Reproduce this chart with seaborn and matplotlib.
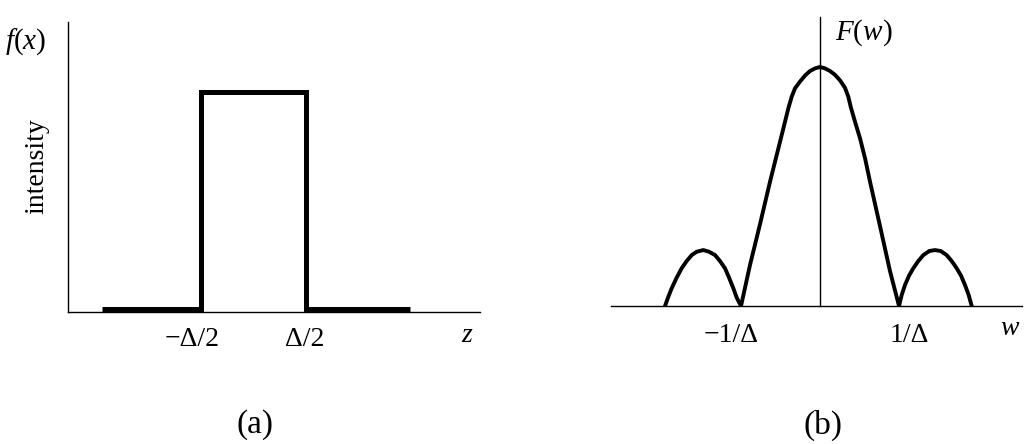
import numpy as np
import pandas as pd
import seaborn as sns
import matplotlib.pyplot as plt
from matplotlib.transforms import ScaledTranslation

# (a) rectangular pulse, z in units of Delta, height normalised to 1
rect_z = [-1.44, -0.5, -0.5, 0.5, 0.5, 1.49]
rect_f = [0, 0, 1, 1, 0, 0]

# (b) magnitude spectrum, w in units of 1/Delta
side_left_w = [-1.962, -1.928, -1.878, -1.814, -1.751, -1.688, -1.624, -1.561, -1.477,
               -1.405, -1.329, -1.266, -1.203, -1.152, -1.097, -1.055, -1.0]
side_left_F = [0.0, 0.032, 0.074, 0.119, 0.158, 0.188, 0.213, 0.227, 0.234,
               0.227, 0.213, 0.188, 0.158, 0.119, 0.074, 0.035, 0.0]
main_w = [-1.0, -0.886, -0.759, -0.633, -0.548, -0.464, -0.401, -0.358, -0.316,
          -0.253, -0.190, -0.127, -0.063, 0.0, 0.063, 0.127, 0.190, 0.253,
          0.316, 0.358, 0.388, 0.443, 0.506, 0.570, 0.633, 0.759, 0.886, 1.0]
main_F = [0.0, 0.172, 0.343, 0.520, 0.632, 0.743, 0.827, 0.876, 0.911,
          0.939, 0.964, 0.983, 0.994, 1.0, 0.994, 0.983, 0.967, 0.944,
          0.913, 0.876, 0.834, 0.771, 0.702, 0.618, 0.520, 0.335, 0.146, 0.0]
side_right_w = [1.0, 1.034, 1.076, 1.127, 1.181, 1.244, 1.308, 1.384, 1.456,
                1.528, 1.603, 1.667, 1.730, 1.785, 1.835, 1.882, 1.920]
side_right_F = [0.0, 0.046, 0.088, 0.127, 0.158, 0.188, 0.213, 0.230, 0.234,
                0.230, 0.213, 0.188, 0.158, 0.127, 0.088, 0.046, 0.0]

rect_ticks = [-0.5, 0.5]
rect_tick_labels = ["\u2212\u0394/2", "\u0394/2"]
spec_ticks = [-1.0, 1.0]
spec_tick_labels = ["\u22121/\u0394", "1/\u0394"]

sns.set_theme(style="white")
plt.rcParams['font.family'] = ['Liberation Serif', 'DejaVu Serif']
plt.rcParams['mathtext.fontset'] = 'custom'
plt.rcParams['mathtext.rm'] = 'Liberation Serif'
plt.rcParams['mathtext.it'] = 'Liberation Serif:italic'

W, H = 1029, 444
fig = plt.figure(figsize=(W / 100, H / 100), dpi=100)
fig.patch.set_facecolor('white')

ax1 = fig.add_axes([68 / W, 1 - 312 / H, 412 / W, 290 / H])
ax2 = fig.add_axes([611 / W, 1 - 306 / H, 411 / W, 289 / H])

# --- (a)
df_rect = pd.DataFrame({'z': rect_z, 'f': rect_f})
sns.lineplot(data=df_rect, x='z', y='f', sort=False, estimator=None, ax=ax1,
             color='black', linewidth=3.6, solid_joinstyle='miter',
             solid_capstyle='butt')
ax1.set_xlim(-1.767, 2.157)
ax1.set_ylim(-0.012, 1.319)

# --- (b)
for ws, Fs in [(side_left_w, side_left_F), (main_w, main_F),
               (side_right_w, side_right_F)]:
    sns.lineplot(x=ws, y=Fs, sort=False, estimator=None, ax=ax2,
                 color='black', linewidth=2.8, solid_joinstyle='round',
                 solid_capstyle='round')
ax2.set_xlim(-2.646, 2.557)
ax2.set_ylim(0, 1.209)
ax2.spines['left'].set_position(('data', 0))

for ax in (ax1, ax2):
    ax.set_facecolor('white')
    for s in ('top', 'right'):
        ax.spines[s].set_visible(False)
    for s in ('left', 'bottom'):
        ax.spines[s].set_color('black')
        ax.spines[s].set_linewidth(1.0)
    ax.set_yticks([])
    ax.set_xlabel('')
    ax.set_ylabel('')
    ax.tick_params(axis='x', length=0, labelsize=20, colors='black')

ax1.set_xticks(rect_ticks, rect_tick_labels)
ax1.tick_params(axis='x', pad=10.5)
ax2.set_xticks(spec_ticks, spec_tick_labels)
ax2.tick_params(axis='x', pad=12)

for lab, dx in zip(ax1.get_xticklabels(), [-9, -1]):
    lab.set_transform(lab.get_transform() + ScaledTranslation(dx / 100, 0, fig.dpi_scale_trans))
for lab, dx in zip(ax2.get_xticklabels(), [-10, 10]):
    lab.set_transform(lab.get_transform() + ScaledTranslation(dx / 100, 0, fig.dpi_scale_trans))

# labels
def ftext(x, y, s, **kw):
    fig.text(x / W, 1 - y / H, s, ha='center', va='center', color='black', **kw)

ftext(26, 42, '$f(x)$', fontsize=21)
ftext(37, 166, 'intensity', fontsize=20, rotation=90)
ftext(467, 335, '$z$', fontsize=20)
ftext(864, 33, '$F(w)$', fontsize=21)
ftext(1010, 328, '$w$', fontsize=20)
ftext(255, 425, '(a)', fontsize=24)
ftext(823, 425, '(b)', fontsize=24)

fig.savefig('out.png', dpi=100, facecolor='white')
